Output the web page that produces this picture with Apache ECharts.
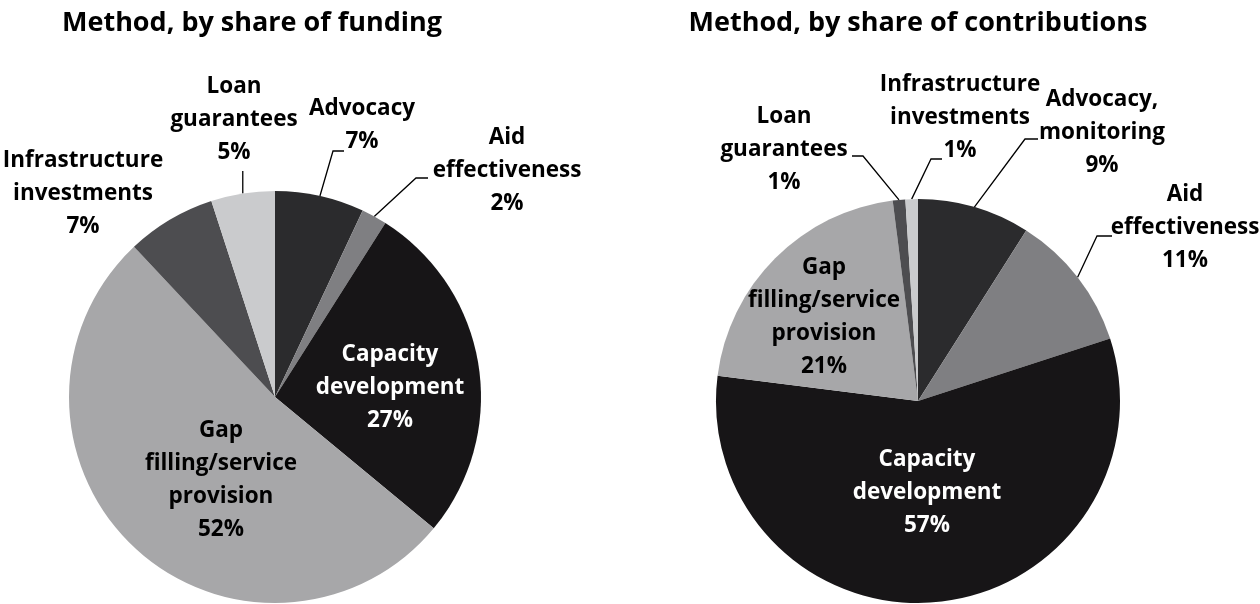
<!DOCTYPE html>
<html>
<head>
<meta charset="utf-8">
<script src="https://cdn.jsdelivr.net/npm/echarts@6/dist/echarts.min.js"></script>
<style>
  html, body { margin: 0; padding: 0; background: #fff; }
  #chart { width: 1260px; height: 604px; }
</style>
</head>
<body>
<div id="chart"></div>
<script>
// Funding split by method (percent of total funding)
const fundingNames = ['Advocacy', 'Aid\neffectiveness', 'Capacity\ndevelopment',
  'Gap\nfilling/service\nprovision', 'Infrastructure\ninvestments', 'Loan\nguarantees'];
const fundingShares = [7, 2, 27, 52, 7, 5];

// Contributions split by method (percent of all contributions)
const contribNames = ['Advocacy,\nmonitoring', 'Aid\neffectiveness', 'Capacity\ndevelopment',
  'Gap\nfilling/service\nprovision', 'Loan\nguarantees', 'Infrastructure\ninvestments'];
const contribShares = [9, 11, 57, 21, 1, 1];

const titles = ['Method, by share of funding', 'Method, by share of contributions'];

// grey ramp applied by slice order
const sliceGrays = ['#2b2b2d', '#7f7f82', '#171517', '#a7a7a9', '#4d4d50', '#cacbcd'];

// where each label block sits; inside labels carry a text colour,
// outside ones a leader end point and which way the short horizontal runs
const fundingLabelSpots = [
  { x: 362, y: 125, end: [344, 151], run: -11 },
  { x: 507, y: 171, end: [428, 178], run: -12 },
  { x: 390, y: 388, inside: '#fff' },
  { x: 221, y: 480, inside: '#000' },
  { x: 83,  y: 194, noLine: true },
  { x: 234, y: 120, rise: 171 }
];
const contribLabelSpots = [
  { x: 1102, y: 133, end: [1038, 139], run: -13 },
  { x: 1185, y: 228, end: [1112, 236], run: -15 },
  { x: 927,  y: 493, inside: '#fff' },
  { x: 824,  y: 317, inside: '#000' },
  { x: 784,  y: 150, end: [852, 156], run: 11 },
  { x: 960,  y: 118, end: [942, 159], run: -11 }
];

const FONT = '"Open Sans", Lato, sans-serif';

function buildData(names, values, spots) {
  return names.map(function (name, i) {
    const s = spots[i];
    const item = { name: name, value: values[i], itemStyle: { color: sliceGrays[i] } };
    if (s.inside) {
      item.label = { position: 'inside', color: s.inside };
      item.labelLine = { show: false };
    } else if (s.noLine) {
      item.labelLine = { show: false };
    }
    return item;
  });
}

function placeLabels(spots) {
  return function (params) {
    const s = spots[params.dataIndex];
    const out = { x: s.x, y: s.y, align: 'center', verticalAlign: 'middle' };
    const pts = params.labelLinePoints;
    if (pts && pts.length) {
      const p0 = pts[0];
      if (s.rise != null) {
        out.labelLinePoints = [p0, [p0[0], s.rise]];
      } else if (s.end) {
        out.labelLinePoints = [p0, [s.end[0] + s.run, s.end[1]], s.end];
      }
    }
    return out;
  };
}

function pieSeries(names, values, spots, center, radius) {
  return {
    type: 'pie',
    center: center,
    radius: radius,
    startAngle: 90,
    clockwise: true,
    avoidLabelOverlap: false,
    silent: true,
    emphasis: { disabled: true },
    label: {
      show: true,
      position: 'outside',
      formatter: '{b}\n{c}%',
      fontFamily: FONT,
      fontWeight: 'bold',
      fontSize: 22.5,
      lineHeight: 33,
      color: '#000',
      align: 'center'
    },
    labelLine: {
      show: true,
      lineStyle: { color: '#000', width: 1.3 }
    },
    labelLayout: placeLabels(spots),
    data: buildData(names, values, spots)
  };
}

const chart = echarts.init(document.getElementById('chart'), null, { renderer: 'canvas' });
chart.setOption({
  backgroundColor: '#fff',
  animation: false,
  title: [
    { text: titles[0], left: 252, top: 10, textAlign: 'center', padding: 0,
      textStyle: { fontFamily: FONT, fontWeight: 'bold', fontSize: 27, color: '#000' } },
    { text: titles[1], left: 918, top: 10, textAlign: 'center', padding: 0,
      textStyle: { fontFamily: FONT, fontWeight: 'bold', fontSize: 27, color: '#000' } }
  ],
  series: [
    pieSeries(fundingNames, fundingShares, fundingLabelSpots, [275, 397], 206),
    pieSeries(contribNames, contribShares, contribLabelSpots, [918, 401], 202)
  ]
});
</script>
</body>
</html>
